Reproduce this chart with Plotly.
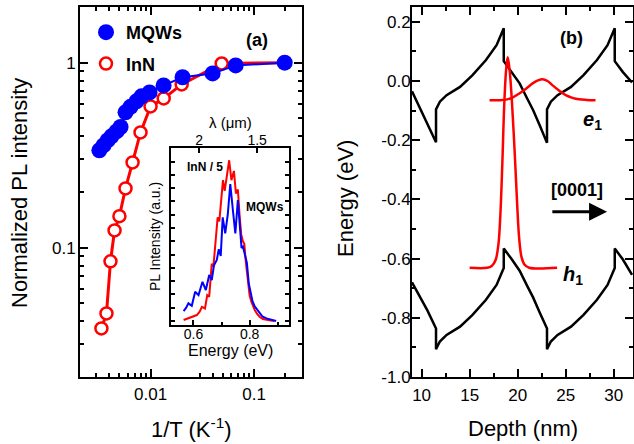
import math
import plotly.graph_objects as go

FONT = "Liberation Sans, Arial, Helvetica, sans-serif"
W, H = 634, 444

# ---------------- Panel (a): normalized PL intensity vs 1/T ----------------
inv_T_mqw = [0.00320, 0.00351, 0.00384, 0.00419, 0.00469, 0.00513, 0.00573, 0.00640,
             0.00731, 0.00818, 0.00978, 0.01337, 0.0204, 0.0398, 0.0665, 0.198]
pl_mqw = [0.336, 0.357, 0.380, 0.400, 0.425, 0.449, 0.539, 0.577,
          0.618, 0.658, 0.691, 0.754, 0.834, 0.875, 0.967, 1.0]

inv_T_inn = [0.00335, 0.00375, 0.0041, 0.00449, 0.0050, 0.00573, 0.0067, 0.0080,
             0.0100, 0.0134, 0.0200, 0.0487, 0.198]
pl_inn = [0.0366, 0.0441, 0.0844, 0.124, 0.148, 0.209, 0.289, 0.42,
          0.58, 0.641, 0.763, 0.99, 1.0]

# inset: PL spectra
E_inn = [0.565, 0.575, 0.588, 0.600, 0.612, 0.622, 0.630, 0.641, 0.649, 0.656, 0.665,
         0.671, 0.677, 0.683, 0.686, 0.692, 0.699, 0.705, 0.711, 0.719, 0.727, 0.735,
         0.744, 0.751, 0.758, 0.764, 0.770, 0.776, 0.781, 0.786, 0.790, 0.795, 0.800,
         0.806, 0.812, 0.818, 0.826, 0.835, 0.847, 0.859, 0.875, 0.888]
I_inn = [0.08, 0.15, 0.25, 0.35, 0.45, 0.7, 1.07, 0.95, 1.95, 1.83, 4.3,
         4.1, 5.5, 6.5, 7.8, 7.5, 9.5, 10.6, 9.8, 11.0, 12.1, 10.6,
         11.3, 9.6, 9.9, 8.0, 6.5, 6.0, 5.8, 4.5, 3.6, 2.6, 1.9,
         1.45, 1.1, 0.83, 0.55, 0.32, 0.15, 0.08, 0.03, 0.0]

E_mqw = [0.565, 0.574, 0.582, 0.594, 0.606, 0.618, 0.632, 0.644, 0.656, 0.665, 0.673,
         0.683, 0.690, 0.697, 0.704, 0.713, 0.722, 0.731, 0.741, 0.749, 0.758, 0.767,
         0.771, 0.776, 0.782, 0.790, 0.797, 0.803, 0.810, 0.818, 0.826, 0.835, 0.845,
         0.860, 0.875, 0.894]
I_mqw = [0.75, 1.0, 1.33, 1.15, 2.2, 1.95, 2.95, 2.33, 3.46, 3.08, 4.2,
         4.6, 5.4, 4.9, 7.8, 6.6, 8.0, 10.3, 8.2, 6.6, 9.1, 7.0,
         5.5, 5.6, 5.0, 4.4, 2.8, 2.2, 1.5, 1.1, 0.9, 0.6, 0.35,
         0.2, 0.1, 0.0]

lambda_ticks = [2.0, 1.5]
lambda_labels = ["2", "1.5"]

# ---------------- Panel (b): band profile ----------------
depth_cb = [9.0, 9.8, 10.6, 11.5, 11.5, 11.9, 12.6, 14.0, 15.3, 16.7, 17.8, 18.55,
            18.55, 19.4, 20.2, 21.0, 21.6, 22.3, 23.05,
            23.05, 23.45, 24.15, 25.55, 26.85, 28.25, 29.35, 30.1,
            30.1, 30.95, 31.9]
energy_cb = [-0.035, -0.09, -0.145, -0.207, -0.096, -0.070, -0.048, -0.020, 0.020, 0.071, 0.121, 0.178,
             0.067, 0.030, -0.008, -0.060, -0.098, -0.150, -0.209,
             -0.096, -0.070, -0.048, -0.020, 0.020, 0.071, 0.121, 0.178,
             0.067, 0.030, -0.005]

depth_vb = [9.0, 9.8, 10.6, 11.5, 11.5, 11.9, 12.6, 14.0, 15.3, 16.7, 17.8, 18.55,
            18.55, 19.4, 20.2, 21.0, 21.6, 22.3, 23.05,
            23.05, 23.45, 24.15, 25.55, 26.85, 28.25, 29.35, 30.1,
            30.1, 30.95, 31.9]
energy_vb = [-0.68, -0.725, -0.775, -0.836, -0.906, -0.880, -0.858, -0.830, -0.790, -0.739, -0.689, -0.632,
             -0.566, -0.603, -0.641, -0.693, -0.731, -0.783, -0.836,
             -0.906, -0.880, -0.858, -0.830, -0.790, -0.739, -0.689, -0.632,
             -0.566, -0.603, -0.655]

depth_e1 = [17.07, 18.0, 18.79, 19.5, 20.17, 20.9, 21.55, 22.1, 22.58, 23.1, 23.6, 24.3, 25.0, 25.7, 26.38, 27.2, 28.1]
psi_e1 = [-0.065, -0.065, -0.063, -0.055, -0.042, -0.025, -0.008, 0.002, 0.006, 0.0, -0.014, -0.032, -0.048, -0.057, -0.062, -0.064, -0.065]

depth_h1 = [15.0, 16.8, 17.3, 17.7, 18.0, 18.2, 18.4, 18.6, 18.8, 18.96, 19.15, 19.4,
            19.7, 19.95, 20.15, 20.4, 20.7, 21.2, 24.1]
psi_h1 = [-0.631, -0.631, -0.625, -0.605, -0.55, -0.45, -0.28, -0.08, 0.04, 0.08, 0.04, -0.07,
          -0.25, -0.42, -0.53, -0.595, -0.62, -0.631, -0.631]

e_ticks = [-1.0, -0.8, -0.6, -0.4, -0.2, 0.0, 0.2]
e_ticklabels = ["-1.0", "-0.8", "-0.6", "-0.4", "-0.2", "0.0", "0.2"]

RED = "#ff0000"
BLUE = "#0000ff"


def pxx(x):
    return x / W


def pyy(y):
    return 1 - y / H


fig = go.Figure()

# Panel (a)
fig.add_trace(go.Scatter(x=inv_T_inn, y=pl_inn, mode="lines+markers", xaxis="x", yaxis="y",
                         line=dict(color=RED, width=3),
                         marker=dict(symbol="circle", size=12, color="white",
                                     line=dict(color=RED, width=2.5)),
                         showlegend=False, hoverinfo="skip"))
fig.add_trace(go.Scatter(x=inv_T_mqw, y=pl_mqw, mode="lines+markers", xaxis="x", yaxis="y",
                         line=dict(color=BLUE, width=2),
                         marker=dict(symbol="circle", size=16, color=BLUE, line=dict(width=0)),
                         showlegend=False, hoverinfo="skip"))
# legend entries
fig.add_trace(go.Scatter(x=[None], y=[None], mode="markers", xaxis="x", yaxis="y",
                         marker=dict(symbol="circle", size=16, color=BLUE, line=dict(width=0)),
                         name="<b>MQWs</b>", showlegend=True, legendgroup="a"))
fig.add_trace(go.Scatter(x=[None], y=[None], mode="markers", xaxis="x", yaxis="y",
                         marker=dict(symbol="circle", size=12, color="white",
                                     line=dict(color=RED, width=2.5)),
                         name="<b>InN</b>", showlegend=True, legendgroup="b"))

# inset
fig.add_trace(go.Scatter(x=E_inn, y=I_inn, mode="lines", xaxis="x3", yaxis="y3",
                         line=dict(color=RED, width=2), showlegend=False, hoverinfo="skip"))
fig.add_trace(go.Scatter(x=E_mqw, y=I_mqw, mode="lines", xaxis="x3", yaxis="y3",
                         line=dict(color=BLUE, width=2), showlegend=False, hoverinfo="skip"))
fig.add_trace(go.Scatter(x=E_mqw, y=I_mqw, mode="lines", xaxis="x4", yaxis="y3",
                         line=dict(color=BLUE, width=2), opacity=0, showlegend=False, hoverinfo="skip"))

# Panel (b)
fig.add_trace(go.Scatter(x=depth_cb, y=energy_cb, mode="lines", xaxis="x2", yaxis="y2",
                         line=dict(color="black", width=2.5), showlegend=False, hoverinfo="skip"))
fig.add_trace(go.Scatter(x=depth_vb, y=energy_vb, mode="lines", xaxis="x2", yaxis="y2",
                         line=dict(color="black", width=2.5), showlegend=False, hoverinfo="skip"))
fig.add_trace(go.Scatter(x=depth_e1, y=psi_e1, mode="lines", xaxis="x2", yaxis="y2",
                         line=dict(color=RED, width=2.5, shape="spline"), showlegend=False, hoverinfo="skip"))
fig.add_trace(go.Scatter(x=depth_h1, y=psi_h1, mode="lines", xaxis="x2", yaxis="y2",
                         line=dict(color=RED, width=2.5, shape="spline"), showlegend=False, hoverinfo="skip"))

axis_common = dict(showline=True, linewidth=2, linecolor="black", showgrid=False, zeroline=False,
                   automargin=False,
                   ticks="inside", tickcolor="black", tickwidth=2, ticklen=8,
                   tickfont=dict(family=FONT, size=17, color="black"))

minor_x_left = [k * 10 ** e for e in (-3, -2) for k in range(3, 10)] + [0.2]
minor_y_left = [0.03, 0.04, 0.05, 0.06, 0.07, 0.08, 0.09, 0.2, 0.3, 0.4, 0.5, 0.6, 0.7, 0.8, 0.9]

fig.update_layout(
    template="none",
    width=W, height=H, margin=dict(l=0, r=0, t=0, b=0, autoexpand=False),
    paper_bgcolor="white", plot_bgcolor="white",
    font=dict(family=FONT, color="black"),
    xaxis=dict(axis_common, domain=[pxx(80), pxx(302)], anchor="y", type="log",
               range=[math.log10(0.00208), math.log10(0.291)], mirror="allticks",
               ticklabelstandoff=1,
               tickmode="array", tickvals=[0.01, 0.1], ticktext=["0.01", "0.1"],
               minor=dict(tickmode="array", tickvals=minor_x_left, ticks="inside", ticklen=4,
                          tickwidth=2, tickcolor="black")),
    yaxis=dict(axis_common, domain=[pyy(377), pyy(7)], anchor="x", type="log",
               range=[math.log10(0.02), math.log10(2.0)], mirror="allticks",
               ticklabelstandoff=-1,
               tickmode="array", tickvals=[0.1, 1], ticktext=["0.1", "1"],
               minor=dict(tickmode="array", tickvals=minor_y_left, ticks="inside", ticklen=4,
                          tickwidth=2, tickcolor="black")),
    xaxis2=dict(axis_common, domain=[pxx(412), pxx(633)], anchor="y2", range=[9, 32],
                mirror="allticks", tickmode="linear", tick0=0, dtick=5, ticklabelstandoff=2,
                minor=dict(ticks="inside", ticklen=4, tickwidth=2, tickcolor="black", dtick=2.5, tick0=0)),
    yaxis2=dict(axis_common, domain=[pyy(377), pyy(7)], anchor="x2", range=[-1.0, 0.25],
                mirror="allticks", tickmode="array", tickvals=e_ticks, ticktext=e_ticklabels,
                ticklabelstandoff=-4,
                minor=dict(ticks="inside", ticklen=4, tickwidth=2, tickcolor="black",
                           tickmode="linear", tick0=0.1, dtick=0.2)),
    xaxis3=dict(showline=True, linewidth=2, linecolor="black", showgrid=False, zeroline=False,
                automargin=False,
                domain=[pxx(171), pxx(289)], anchor="y3", range=[0.52, 0.94], mirror=True,
                ticks="inside", ticklen=5, tickwidth=1.5, tickcolor="black", ticklabelstandoff=-5,
                tickmode="array", tickvals=[0.6, 0.8], ticktext=["0.6", "0.8"],
                tickfont=dict(family=FONT, size=14, color="black"),
                minor=dict(tickmode="array", tickvals=[0.7, 0.9], ticks="inside", ticklen=3,
                           tickwidth=1.5, tickcolor="black")),
    xaxis4=dict(overlaying="x3", anchor="y3", side="top", range=[0.52, 0.94],
                automargin=False,
                showline=False, showgrid=False, zeroline=False,
                ticks="inside", ticklen=5, tickwidth=1.5, tickcolor="black",
                tickmode="array", tickvals=[1.2398 / l for l in lambda_ticks], ticktext=lambda_labels,
                tickfont=dict(family=FONT, size=14, color="black")),
    yaxis3=dict(showline=True, linewidth=2, linecolor="black", showgrid=False, zeroline=False,
                automargin=False,
                domain=[pyy(325), pyy(148.3)], anchor="x3", range=[-0.3, 13], mirror="ticks",
                ticks="inside", ticklen=4, tickwidth=1.5, tickcolor="black",
                tickmode="linear", tick0=0, dtick=1, showticklabels=False),
    legend=dict(x=pxx(86), y=pyy(14), xanchor="left", yanchor="top", bgcolor="rgba(0,0,0,0)",
                font=dict(family=FONT, size=18, color="black"), tracegroupgap=5,
                itemsizing="trace", borderwidth=0),
)


def note(text, x, y, size, xref="paper", yref="paper", angle=0):
    return dict(text=text, x=x, y=y, xref=xref, yref=yref, xanchor="center", yanchor="middle",
                showarrow=False, textangle=angle, font=dict(family=FONT, size=size, color="black"))


ann = [
    note("Normalized PL intensity", pxx(19), pyy(193), 22, angle=-90),
    note("1/T (K<sup>-1</sup>)", pxx(191), pyy(428), 22),
    note("Energy (eV)", pxx(345), pyy(198), 22, angle=-90),
    note("Depth (nm)", pxx(523), pyy(428), 22),
    note("PL Intensity (a.u.)", pxx(155), pyy(237), 14, angle=-90),
    note("Energy (eV)", pxx(230), pyy(350), 16),
    note("λ (μm)", pxx(230), pyy(123), 15),
    note("<b>InN / 5</b>", pxx(205), pyy(167), 12),
    note("<b>MQWs</b>", pxx(265), pyy(207), 12),
    note("<b>(a)</b>", pxx(257), pyy(40), 18),
    note("<b>(b)</b>", 25.65, 0.145, 18, "x2", "y2"),
    note("<b>[0001]</b>", 26.2, -0.369, 18, "x2", "y2"),
    note("<b><i>e</i><sub>1</sub></b>", 27.8, -0.135, 20, "x2", "y2"),
    note("<b><i>h</i><sub>1</sub></b>", 25.76, -0.656, 20, "x2", "y2"),
    dict(text="", x=29.3, y=-0.442, ax=23.45, ay=-0.442, xref="x2", yref="y2",
         axref="x2", ayref="y2", showarrow=True, arrowhead=2, arrowsize=1.2,
         arrowwidth=3, arrowcolor="black"),
]

fig.update_layout(annotations=ann)

fig.write_html("out.html", config={"displayModeBar": False},
               post_script="document.body.style.margin='0';document.body.style.padding='0';")
